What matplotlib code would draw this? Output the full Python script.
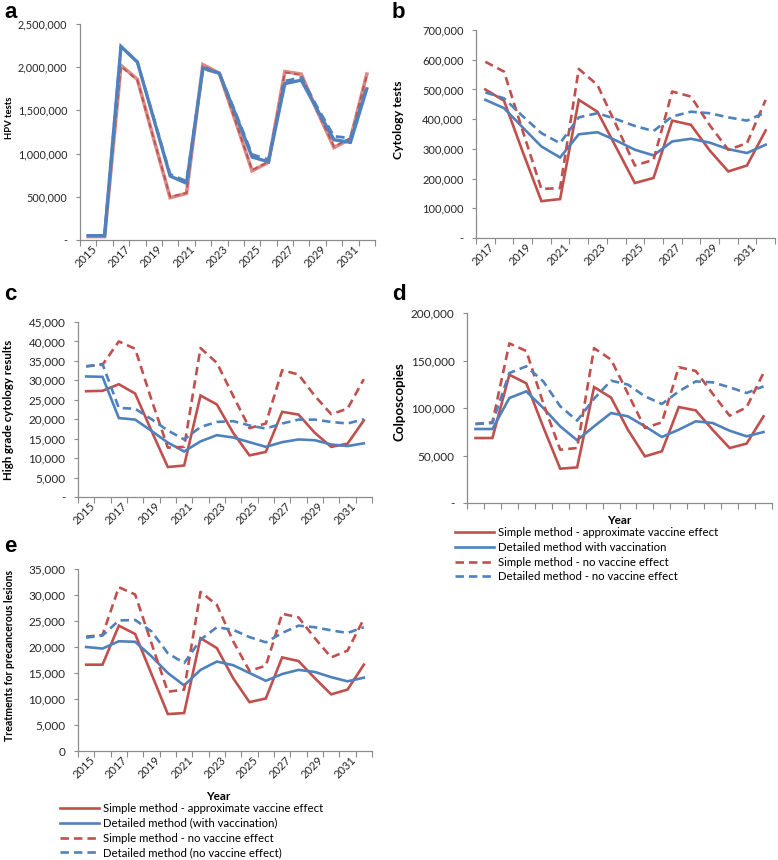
import matplotlib
matplotlib.use("Agg")
import matplotlib.pyplot as plt
from matplotlib.ticker import FuncFormatter, FixedLocator, NullFormatter
from matplotlib.transforms import ScaledTranslation

plt.rcParams['font.family'] = ['Lato', 'DejaVu Sans']

# ---------------- data ----------------
years_full = list(range(2015, 2033))
years_b = list(range(2017, 2033))

# a: HPV tests
a_simple = [40000, 40000, 2020000, 1860000, 1170000, 490000, 540000, 2030000, 1930000,
            1370000, 800000, 900000, 1950000, 1920000, 1480000, 1070000, 1170000, 1920000]
a_simple_novac = [45000, 45000, 2010000, 1850000, 1170000, 500000, 545000, 2020000, 1920000,
                  1370000, 810000, 905000, 1940000, 1910000, 1480000, 1080000, 1180000, 1910000]
a_detailed = [50000, 50000, 2240000, 2060000, 1400000, 740000, 657000, 1990000, 1930000,
              1450000, 960000, 905000, 1810000, 1850000, 1500000, 1160000, 1130000, 1750000]
a_detailed_novac = [50000, 50000, 2240000, 2060000, 1410000, 760000, 680000, 1980000, 1930000,
                    1470000, 990000, 930000, 1840000, 1880000, 1530000, 1200000, 1180000, 1770000]

# b: Cytology tests (2017-2032)
b_simple = [500000, 462000, 290000, 124000, 131000, 465000, 425000, 305000, 185000, 202000,
            395000, 381000, 295000, 224000, 244000, 362000]
b_simple_novac = [593000, 560000, 360000, 165000, 168000, 569000, 515000, 380000, 244000, 263000,
                  493000, 476000, 380000, 297000, 319000, 465000]
b_detailed = [465000, 437000, 372000, 308000, 271000, 349000, 356000, 328000, 297000, 278000,
              325000, 334000, 321000, 299000, 286000, 314000]
b_detailed_novac = [490000, 470000, 410000, 353000, 319000, 406000, 420000, 400000, 377000, 360000,
                    409000, 425000, 420000, 406000, 395000, 423000]

# c: High grade cytology results
c_simple = [27200, 27300, 29000, 26600, 17000, 7700, 8100, 26100, 23800, 16500, 10700, 11600,
            21900, 21200, 16500, 12900, 13700, 19700]
c_simple_novac = [33600, 34000, 40000, 38100, 25000, 12700, 12900, 38300, 34500, 26000, 17700,
                  18900, 32600, 31500, 26000, 21300, 22700, 30300]
c_detailed = [31000, 30900, 20300, 19900, 17000, 14000, 11700, 14300, 15900, 15300, 14100, 12900,
              14100, 14800, 14600, 13500, 13100, 13800]
c_detailed_novac = [33600, 34200, 22900, 22700, 20000, 17100, 14800, 18000, 19300, 19500, 18400,
                    17600, 18900, 19900, 19900, 19300, 18900, 20000]

# d: Colposcopies
d_simple = [68400, 68400, 135000, 126000, 80000, 36100, 37500, 122000, 111000, 77000, 49100,
            54400, 101000, 97500, 77000, 57900, 62500, 91200]
d_simple_novac = [83200, 84900, 168000, 160000, 105000, 56100, 57900, 163000, 151000, 115000,
                  78900, 84900, 143000, 139000, 115000, 91900, 100700, 137000]
d_detailed = [77900, 77900, 110500, 117500, 100000, 80700, 66000, 80700, 94700, 91200, 80700,
              69500, 77200, 86000, 84200, 76100, 70200, 74700]
d_detailed_novac = [83200, 84200, 136800, 143900, 128000, 101800, 86700, 109800, 128800, 124600,
                    112300, 104200, 117500, 128000, 127000, 121800, 115800, 122800]

# e: Treatments for precancerous lesions
e_simple = [16600, 16600, 24100, 22500, 14800, 7100, 7300, 21700, 19800, 14000, 9400, 10100,
            18000, 17300, 14000, 10900, 11800, 16600]
e_simple_novac = [22000, 22300, 31500, 30100, 20700, 11400, 11800, 30600, 28100, 21100, 15400,
                  16400, 26400, 25700, 21700, 18000, 19300, 25400]
e_detailed = [20000, 19700, 21100, 21000, 18200, 15000, 12600, 15600, 17200, 16500, 15000, 13500,
              14800, 15600, 15200, 14200, 13400, 14100]
e_detailed_novac = [21800, 22200, 25100, 25200, 23000, 18800, 16900, 21400, 23800, 23300, 21900,
                    20900, 22700, 24100, 23800, 23200, 22700, 23800]

legend_d = ["Simple method - approximate vaccine effect",
            "Detailed method with vaccination",
            "Simple method - no vaccine effect",
            "Detailed method - no vaccine effect"]
legend_e = ["Simple method - approximate vaccine effect",
            "Detailed method (with vaccination)",
            "Simple method - no vaccine effect",
            "Detailed method (no vaccine effect)"]

RED = '#C0504D'
BLUE = '#4F81BD'
LW = 1.9
DASH = (0, (3.2, 1.9))
SPINE = '#8C8C8C'
TXT = '#262626'

W, H = 778, 860
fig = plt.figure(figsize=(W / 100, H / 100), dpi=100)


def add_ax(l, t, r, b):
    return fig.add_axes([l / W, 1 - b / H, (r - l) / W, (b - t) / H])


def fmt_factory(zero):
    def f(v, pos):
        if abs(v) < 1e-9:
            return zero
        return f"{int(round(v)):,}"
    return f


def style(ax, years, ymax, ystep, ytick_fs, xtick_fs, zero='-', show_xlabels=True):
    n = len(years)
    ax.set_xlim(-0.5, n - 0.5)
    ax.set_ylim(0, ymax)
    for s in ['top', 'right']:
        ax.spines[s].set_visible(False)
    for s in ['left', 'bottom']:
        ax.spines[s].set_color(SPINE)
        ax.spines[s].set_linewidth(0.9)
    yt = [i * ystep for i in range(int(round(ymax / ystep)) + 1)]
    ax.set_yticks(yt)
    ax.yaxis.set_major_formatter(FuncFormatter(fmt_factory(zero)))
    ax.tick_params(axis='y', length=3, width=0.8, color=SPINE, labelsize=ytick_fs,
                   labelcolor=TXT, pad=6)
    ax.xaxis.set_major_locator(FixedLocator(list(range(0, n, 2))))
    ax.xaxis.set_minor_locator(FixedLocator([i - 0.5 for i in range(n + 1)]))
    ax.xaxis.set_minor_formatter(NullFormatter())
    ax.tick_params(axis='x', which='major', length=0, labelsize=xtick_fs, labelcolor=TXT, pad=5)
    ax.tick_params(axis='x', which='minor', length=4, width=0.8, color=SPINE)
    if show_xlabels:
        ax.set_xticklabels([str(years[i]) for i in range(0, n, 2)], rotation=45,
                           ha='right', va='center', rotation_mode='anchor')
        off = ScaledTranslation(7 / 100, 0, fig.dpi_scale_trans)
        for t in ax.get_xticklabels():
            t.set_transform(t.get_transform() + off)
    else:
        ax.set_xticklabels([])


def ylabel_text(text, xpix, ypix, fs):
    fig.text(xpix / W, 1 - ypix / H, text, rotation=90, ha='center', va='center',
             fontsize=fs, fontweight='bold', color='black')


def plot4(ax, years, s, sn, d, dn, panel_a=False):
    x = list(range(len(years)))
    if panel_a:
        h1, = ax.plot(x, s, color='#DC8A88', lw=2.6, solid_joinstyle='miter')
        h3, = ax.plot(x, sn, color=RED, lw=1.3, linestyle=(0, (3, 2)))
        h2, = ax.plot(x, d, color=BLUE, lw=2.4, solid_joinstyle='miter')
        h4, = ax.plot(x, dn, color=BLUE, lw=2.0, linestyle=DASH)
    else:
        h1, = ax.plot(x, s, color=RED, lw=LW, solid_joinstyle='miter')
        h2, = ax.plot(x, d, color=BLUE, lw=LW, solid_joinstyle='miter')
        h3, = ax.plot(x, sn, color=RED, lw=LW, linestyle=DASH)
        h4, = ax.plot(x, dn, color=BLUE, lw=LW, linestyle=DASH)
    return [h1, h2, h3, h4]


# panel a
axa = add_ax(80, 24, 375, 240)
plot4(axa, years_full, a_simple, a_simple_novac, a_detailed, a_detailed_novac, panel_a=True)
style(axa, years_full, 2500000, 500000, 7.8, 8)
ylabel_text('HPV tests', 9, 118, 6.8)

# panel b
axb = add_ax(476, 30, 775, 238)
plot4(axb, years_b, b_simple, b_simple_novac, b_detailed, b_detailed_novac)
style(axb, years_b, 700000, 100000, 8, 8)
ylabel_text('Cytology tests', 399, 120, 8.8)

# panel c
axc = add_ax(78, 322, 372, 497)
plot4(axc, years_full, c_simple, c_simple_novac, c_detailed, c_detailed_novac)
style(axc, years_full, 45000, 5000, 8.5, 8)
ylabel_text('High grade cytology results', 9, 410, 8.3)

# panel d
axd = add_ax(467, 313, 772, 503)
hd = plot4(axd, years_full, d_simple, d_simple_novac, d_detailed, d_detailed_novac)
style(axd, years_full, 200000, 50000, 8.5, 8, show_xlabels=False)
ylabel_text('Colposcopies', 399, 402, 9.5)
fig.text((467 + 772) / 2 / W, 1 - 520 / H, 'Year', ha='center', va='center',
         fontsize=8.5, fontweight='bold', color='black')
fig.legend(hd, legend_d, loc='upper left', bbox_to_anchor=(455 / W, 1 - 527 / H),
           frameon=False, fontsize=8.2, handlelength=3.4, handletextpad=0.35,
           labelspacing=0.33, borderpad=0, borderaxespad=0)

# panel e
axe = add_ax(78, 569, 372, 751)
he = plot4(axe, years_full, e_simple, e_simple_novac, e_detailed, e_detailed_novac)
style(axe, years_full, 35000, 5000, 8.5, 8, zero='0')
ylabel_text('Treatments for precancerous lesions', 10, 655, 7.6)
fig.text(218 / W, 1 - 797 / H, 'Year', ha='center', va='center',
         fontsize=8.5, fontweight='bold', color='black')
fig.legend(he, legend_e, loc='upper left', bbox_to_anchor=(60 / W, 1 - 803 / H),
           frameon=False, fontsize=8.2, handlelength=3.4, handletextpad=0.35,
           labelspacing=0.33, borderpad=0, borderaxespad=0)

# panel letters
for lbl, (px, py) in {'a': (4, 12), 'b': (392, 12), 'c': (4, 294), 'd': (392, 294),
                      'e': (4, 546)}.items():
    fig.text(px / W, 1 - py / H, lbl, fontsize=16, fontweight='bold', ha='left',
             va='center', family=['Liberation Sans', 'DejaVu Sans'])

fig.savefig('out.png', dpi=100)
